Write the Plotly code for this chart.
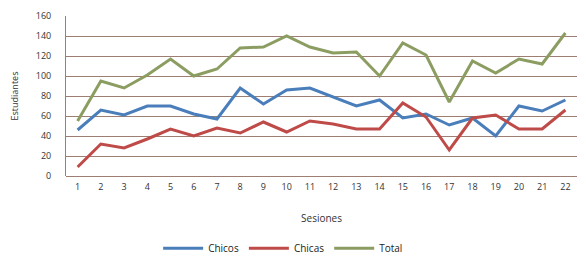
import plotly.graph_objects as go

sesiones = [str(i) for i in range(1, 23)]
chicos = [46, 66, 61, 70, 70, 62, 57, 88, 72, 86, 88, 79, 70, 76, 58, 62, 51, 58, 40, 70, 65, 76]
chicas = [9, 32, 28, 37, 47, 40, 48, 43, 54, 44, 55, 52, 47, 47, 73, 59, 26, 58, 61, 47, 47, 66]
total = [55, 95, 88, 101, 117, 100, 107, 128, 129, 140, 129, 123, 124, 100, 133, 121, 74, 115, 103, 117, 112, 143]

series = [("Chicos", chicos, "#4a7ebb"), ("Chicas", chicas, "#be4b48"), ("Total", total, "#8c9d62")]

fig = go.Figure()
for name, vals, col in series:
    fig.add_trace(go.Scatter(x=sesiones, y=vals, name=name, mode="lines",
                             line=dict(color=col, width=3)))

grid = "#9c7f72"
# page body has an 8px default margin, so the figure is sized to fit the window
fig.update_layout(
    width=578, height=256,
    margin=dict(l=58, r=9, t=8, b=88, autoexpand=False),
    paper_bgcolor="white", plot_bgcolor="white",
    font=dict(family="Open Sans, Noto Sans, sans-serif", size=9, color="#333333"),
    showlegend=True,
    legend=dict(orientation="h", xref="container", yref="container",
                x=0.476, xanchor="center", y=0.062, yanchor="middle",
                font=dict(size=10, color="#222222"), itemwidth=40, tracegroupgap=0),
    xaxis=dict(type="category", range=[-0.5, 21.5], showgrid=False, showline=False, ticks="",
               automargin=False,
               tickfont=dict(size=9), ticklabelstandoff=4,
               title=dict(text="Sesiones", font=dict(size=10), standoff=22)),
    yaxis=dict(range=[0, 160], dtick=20, showgrid=True, gridcolor=grid, gridwidth=1,
               showline=True, linecolor=grid, linewidth=1, zeroline=True,
               zerolinecolor=grid, zerolinewidth=1, ticks="", automargin=False,
               tickfont=dict(size=9), ticklabelstandoff=12,
               title=dict(text="Estudiantes", font=dict(size=9), standoff=18)),
)
fig.write_html("out.html")
